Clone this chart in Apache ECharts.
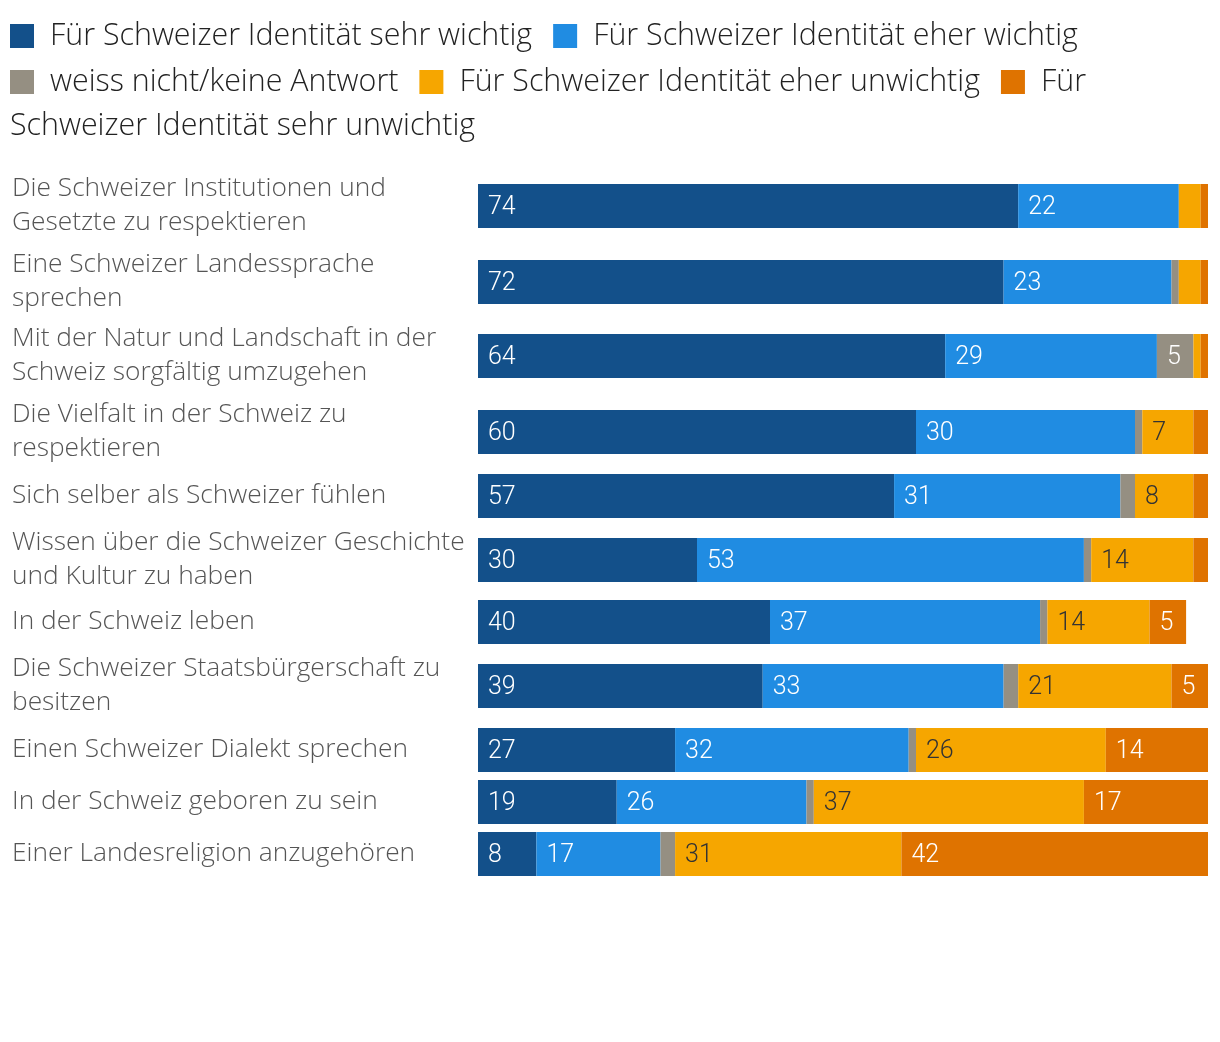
<!DOCTYPE html>
<html>
<head>
<meta charset="utf-8">
<script src="https://cdn.jsdelivr.net/npm/echarts@6/dist/echarts.min.js"></script>
<style>
html,body{margin:0;padding:0;background:#fff;}
#chart{width:1220px;height:1042px;}
</style>
</head>
<body>
<div id="chart"></div>
<script>
const categories = [
  "Die Schweizer Institutionen und\nGesetzte zu respektieren",
  "Eine Schweizer Landessprache\nsprechen",
  "Mit der Natur und Landschaft in der\nSchweiz sorgfältig umzugehen",
  "Die Vielfalt in der Schweiz zu\nrespektieren",
  "Sich selber als Schweizer fühlen",
  "Wissen über die Schweizer Geschichte\nund Kultur zu haben",
  "In der Schweiz leben",
  "Die Schweizer Staatsbürgerschaft zu\nbesitzen",
  "Einen Schweizer Dialekt sprechen",
  "In der Schweiz geboren zu sein",
  "Einer Landesreligion anzugehören"
];
const seriesNames = [
  "Für Schweizer Identität sehr wichtig",
  "Für Schweizer Identität eher wichtig",
  "weiss nicht/keine Antwort",
  "Für Schweizer Identität eher unwichtig",
  "Für Schweizer Identität sehr unwichtig"
];
const sehrWichtig   = [74, 72, 64, 60, 57, 30, 40, 39, 27, 19, 8];
const eherWichtig   = [22, 23, 29, 30, 31, 53, 37, 33, 32, 26, 17];
const weissNicht    = [0, 1, 5, 1, 2, 1, 1, 2, 1, 1, 2];
const eherUnwichtig = [3, 3, 1, 7, 8, 14, 14, 21, 26, 37, 31];
const sehrUnwichtig = [1, 1, 1, 2, 2, 2, 5, 5, 14, 17, 42];

// layout (not data)
const colors = ["#13508a", "#208ce2", "#958f82", "#f6a600", "#df7300"];
const labelColors = ["#ffffff", "#ffffff", "#ffffff", "#333333", "#ffffff"];
const gridTops = [184, 260, 334, 410, 474, 538, 600, 664, 728, 780, 832];
const barH = 44;
const FONT = "'Open Sans', 'Noto Sans', sans-serif";
const NUMFONT = "Roboto, 'Open Sans', sans-serif";

const seriesValues = [sehrWichtig, eherWichtig, weissNicht, eherUnwichtig, sehrUnwichtig];

const grids = [], xAxes = [], yAxes = [], series = [];
categories.forEach((cat, i) => {
  grids.push({left: 478, right: 12, top: gridTops[i], height: barH, containLabel: false});
  xAxes.push({type: 'value', gridIndex: i, min: 0, max: 100, show: false});
  yAxes.push({
    type: 'category', gridIndex: i, data: [cat],
    axisLine: {show: false}, axisTick: {show: false}, splitLine: {show: false},
    axisLabel: {
      align: 'left', margin: 466, color: '#555555', fontFamily: FONT, fontWeight: 300,
      fontSize: 26.3, lineHeight: 34
    }
  });
  seriesValues.forEach((vals, k) => {
    series.push({
      type: 'bar', name: seriesNames[k], xAxisIndex: i, yAxisIndex: i,
      stack: 'row' + i, barWidth: barH, data: [vals[i]],
      itemStyle: {color: colors[k]},
      label: {
        show: true, position: 'insideLeft', distance: 10, offset: [0, 2],
        color: labelColors[k], fontFamily: NUMFONT, fontWeight: 300, fontSize: 25,
        formatter: p => (p.value >= 5 ? String(p.value) : '')
      },
      emphasis: {disabled: true},
      animation: false
    });
  });
});

const legendCommon = {
  left: 10, padding: 0, orient: 'horizontal',
  icon: 'rect', itemWidth: 24, itemHeight: 24, itemGap: 21,
  formatter: name => (name === seriesNames[4] ? 'Für' : name),
  textStyle: {fontFamily: FONT, fontWeight: 300, fontSize: 30.4, color: '#222222', padding: [0, 0, 0, 11]}
};

const chart = echarts.init(document.getElementById('chart'), null, {renderer: 'canvas'});
chart.setOption({
  backgroundColor: '#ffffff',
  animation: false,
  legend: [
    Object.assign({}, legendCommon, {top: 21, data: seriesNames.slice(0, 2)}),
    Object.assign({}, legendCommon, {top: 67, data: seriesNames.slice(2)})
  ],
  graphic: [{
    type: 'text', left: 10, top: 111,
    style: {text: 'Schweizer Identität sehr unwichtig', font: "300 30.4px " + FONT, fill: '#222222'}
  }],
  grid: grids,
  xAxis: xAxes,
  yAxis: yAxes,
  series: series
});
</script>
</body>
</html>
